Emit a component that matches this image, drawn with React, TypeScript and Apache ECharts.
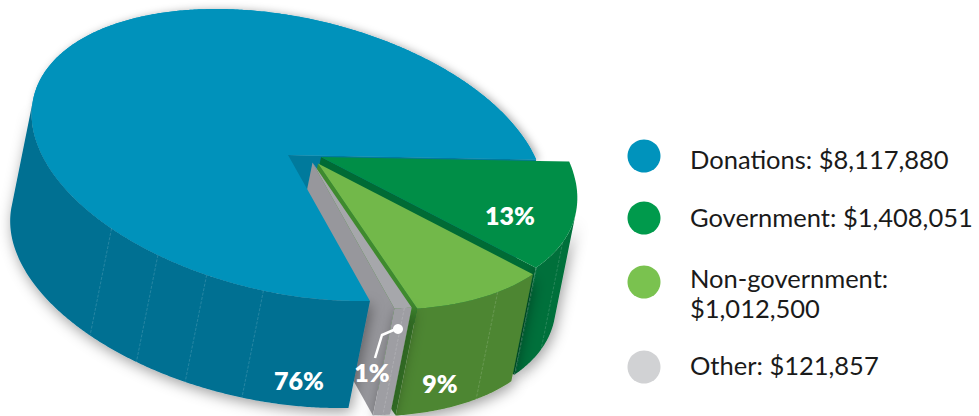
import React, { useEffect, useRef } from "react";
import * as echarts from "echarts";

const names = ["Government", "Non-government", "Other", "Donations"];
const amounts = [1408051, 1012500, 121857, 8117880];
const percentLabels = ["13%", "9%", "1%", "76%"];
const legendOrder = ["Donations: $8,117,880", "Government: $1,408,051", "Non-government:\n$1,012,500", "Other: $121,857"];
const legendColors = ["#0093bc", "#009a4c", "#7ac24f", "#d1d2d4"];

// Projection of the tilted disc
const C = [288, 155];
const U = [247, 2];
const V = [68.5, 146];
const E = [-21.5, 107];
const ROTATION = 1;
const WALL_FROM = 21.7;
const WALL_TO = 201.7;

const looks = [
  { off: [33, 2], top: "#008e47", wall: "#00703a", cut: "#006b35", z: 10, seams: [35, 48.2] },
  { off: [30, 8.5], top: "#72b84a", wall: "#4e8633", cut: "#3f8a2e", z: 20, seams: [61] },
  { off: [24.5, 7.5], top: "#a6a7ab", wall: "#9e9ea3", cut: "#97979c", z: 30, seams: [84.5] },
  { off: [0, 0], top: "#0092bb", wall: "#006f92", cut: "#007a9c", z: 40, seams: [111, 124, 136, 149] },
];

const total = amounts.reduce((a, b) => a + b, 0);

function pt(deg: number, off: number[], drop = 0, r = 1) {
  const t = (deg * Math.PI) / 180;
  const c = Math.cos(t) * r;
  const s = Math.sin(t) * r;
  return [
    C[0] + U[0] * c + V[0] * s + off[0] + E[0] * drop,
    C[1] + U[1] * c + V[1] * s + off[1] + E[1] * drop,
  ];
}

function arc(a: number, b: number, off: number[], drop = 0) {
  const out: number[][] = [];
  const n = Math.max(2, Math.ceil(Math.abs(b - a) * 2));
  for (let i = 0; i <= n; i++) out.push(pt(a + ((b - a) * i) / n, off, drop));
  return out;
}

function renderSlice(params: any, api: any) {
  const i = params.dataIndex;
  let start = ROTATION;
  for (let k = 0; k < i; k++) start += (amounts[k] / total) * 360;
  const sweep = (api.value(0) / total) * 360;
  const end = start + sweep;
  const { off, top, wall, cut, z, seams } = looks[i];
  const apex = pt(0, off, 0, 0);
  const apexLow = pt(0, off, 1, 0);
  const children: any[] = [];
  const shadow = { shadowBlur: 14, shadowColor: "rgba(0,0,0,0.38)", shadowOffsetY: 4, shadowOffsetX: 2 };

  if (i === 3) {
    // silhouette shadow and the wall seen in the notch
    children.push({ type: "polygon", z2: -1, shape: { points: [apex, ...arc(start, end, off)] }, style: { fill: top, shadowBlur: 8, shadowColor: "rgba(0,0,0,0.35)", shadowOffsetX: 3, shadowOffsetY: 1 } });
    children.push({ type: "polygon", z2: 1, shape: { points: [apex, pt(end, off), pt(end, off, 1), apexLow] }, style: { fill: cut } });
  } else {
    // cut face on the left side of the wedge
    children.push({ type: "polygon", z2: z + 1, shape: { points: [apex, pt(end, off), pt(end, off, 1), apexLow] }, style: { fill: cut } });
  }

  const a = Math.max(start, WALL_FROM);
  const b = Math.min(end, WALL_TO);
  if (b > a) {
    children.push({
      type: "polygon",
      z2: z + 2,
      shape: { points: [...arc(a, b, off), ...arc(b, a, off, 1)] },
      style: { fill: wall, ...shadow },
    });
  }
  seams.forEach((s) => {
    const p = pt(s, off);
    const q = pt(s, off, 1);
    children.push({
      type: "line",
      z2: z + 3,
      shape: { x1: p[0], y1: p[1], x2: q[0], y2: q[1] },
      style: { stroke: "rgba(255,255,255,0.15)", lineWidth: 1, lineDash: [3, 1.5] },
    });
  });
  children.push({
    type: "polygon",
    z2: z + 4,
    shape: { points: [apex, ...arc(start, end, off)] },
    style: { fill: top },
  });
  return { type: "group", children };
}

const percentPlaces = [
  [510, 215],
  [440, 383],
  [372, 372],
  [299, 380],
];
const legendRows = [
  { cy: 156, ty: 159 },
  { cy: 218, ty: 217 },
  { cy: 282, ty: 293 },
  { cy: 367, ty: 365 },
];
const legendFont = "Lato";

export default function App() {
  const ref = useRef<HTMLDivElement>(null);
  useEffect(() => {
    document.body.style.margin = "0";
    const chart = echarts.init(ref.current!, undefined, { renderer: "svg" });
    const graphic: any[] = [];
    percentLabels.forEach((label, i) => {
      graphic.push({
        type: "text",
        z: 10,
        x: percentPlaces[i][0],
        y: percentPlaces[i][1],
        style: {
          text: label,
          fill: "#ffffff",
          font: `800 25px ${legendFont}`,
          align: "center",
          verticalAlign: "middle",
        },
      });
    });
    graphic.push({
      type: "polyline",
      z: 10,
      shape: { points: [[375, 358], [382, 335], [396, 329]] },
      style: { stroke: "#ffffff", lineWidth: 2.5, fill: "none" },
    });
    graphic.push({ type: "circle", z: 10, shape: { cx: 398, cy: 329, r: 5 }, style: { fill: "#ffffff" } });
    legendOrder.forEach((label, i) => {
      graphic.push({ type: "circle", shape: { cx: 644, cy: legendRows[i].cy, r: 16.5 }, style: { fill: legendColors[i] } });
      graphic.push({
        type: "text",
        x: 690,
        y: legendRows[i].ty,
        style: {
          text: label,
          fill: "#1a1a1a",
          font: `400 25.5px ${legendFont}`,
          lineHeight: 30,
          align: "left",
          verticalAlign: "middle",
        },
      });
    });
    chart.setOption({
      animation: false,
      backgroundColor: "#ffffff",
      series: [
        {
          type: "custom",
          name: "Funding",
          coordinateSystem: "none",
          silent: true,
          clip: false,
          renderItem: renderSlice,
          data: amounts.map((v, i) => ({ name: names[i], value: [v] })),
        },
      ],
      graphic,
    });
    return () => chart.dispose();
  }, []);
  return <div ref={ref} style={{ position: "absolute", left: 0, top: 0, width: 979, height: 416 }} />;
}
